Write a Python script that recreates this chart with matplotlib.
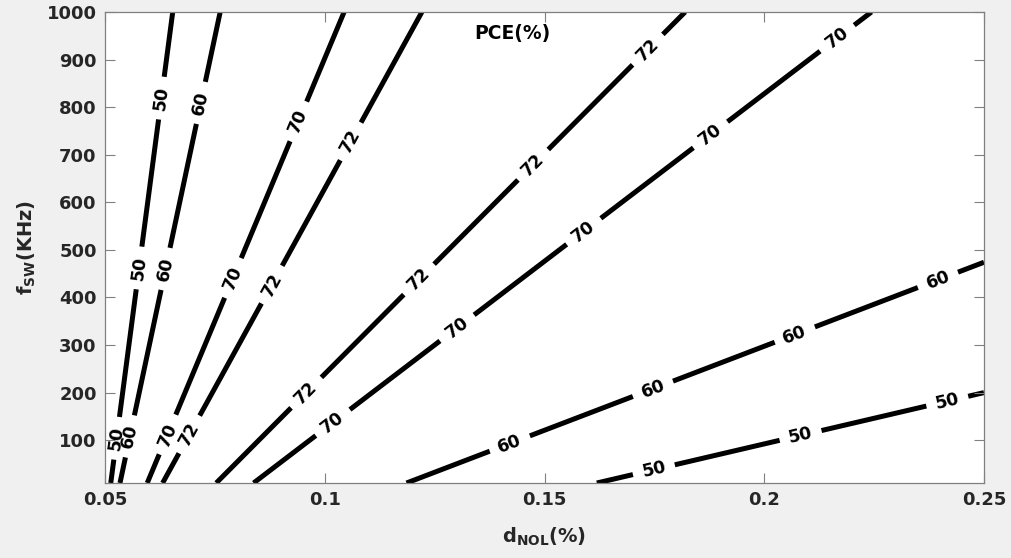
import numpy as np
import matplotlib.pyplot as plt

plt.rcParams['font.family'] = 'DejaVu Sans'
plt.rcParams['font.weight'] = 'bold'
plt.rcParams['axes.labelweight'] = 'bold'
plt.rcParams['mathtext.fontset'] = 'dejavusans'

# PCE(%) contour lines: level, start (d_NOL, f_SW) and end (d_NOL, f_SW)
levels = [50, 60, 70, 72, 72, 70, 60, 50]
d_start = [0.0513, 0.0534, 0.0596, 0.0631, 0.0753, 0.0838, 0.1186, 0.1619]
f_start = [10, 10, 10, 10, 10, 10, 10, 10]
d_end = [0.0654, 0.0762, 0.1044, 0.1221, 0.1820, 0.2244, 0.25, 0.25]
f_end = [1000, 1000, 1000, 1000, 1000, 1000, 474, 200]

# f_SW (KHz) where each line carries its inline label
label_f = [
    [104, 462, 819],
    [108, 460, 809],
    [112, 441, 770],
    [112, 427, 728],
    [200, 438, 679, 921],
    [137, 336, 539, 742, 945],
    [93, 208, 322, 437],
    [38, 110, 182],
]

xticks = [0.05, 0.1, 0.15, 0.2, 0.25]
xticklabels = ['0.05', '0.1', '0.15', '0.2', '0.25']
yticks = [100, 200, 300, 400, 500, 600, 700, 800, 900, 1000]

fig = plt.figure(figsize=(10.12, 5.58), dpi=100, facecolor='#f0f0f0')
ax = fig.add_axes([0.1038, 0.1344, 0.8685, 0.8441])
ax.set_facecolor('white')
ax.set_xlim(0.05, 0.25)
ax.set_ylim(10, 1000)

half_gap = 21.5  # pixels of line left out on each side of a label

for i in range(len(levels)):
    x0, y0, x1, y1 = d_start[i], f_start[i], d_end[i], f_end[i]
    p0 = ax.transData.transform((x0, y0))
    p1 = ax.transData.transform((x1, y1))
    length = np.hypot(p1[0] - p0[0], p1[1] - p0[1])
    ang = np.degrees(np.arctan2(p1[1] - p0[1], p1[0] - p0[0]))
    g = half_gap / length

    ts = [(f - y0) / (y1 - y0) for f in label_f[i]]
    cuts = [0.0]
    for t in ts:
        cuts += [t - g, t + g]
    cuts.append(1.0)
    for a, b in zip(cuts[::2], cuts[1::2]):
        a, b = max(a, 0.0), min(b, 1.0)
        if b <= a:
            continue
        ax.plot([x0 + a * (x1 - x0), x0 + b * (x1 - x0)],
                [y0 + a * (y1 - y0), y0 + b * (y1 - y0)],
                color='black', lw=3.6, solid_capstyle='butt', zorder=1)

    for t, f in zip(ts, label_f[i]):
        x = x0 + t * (x1 - x0)
        ax.text(x, f, str(levels[i]), rotation=ang, rotation_mode='anchor',
                ha='center', va='center', fontsize=12.5, color='black',
                zorder=2, clip_on=True)

ax.text(0.463, 0.955, 'PCE(%)', transform=ax.transAxes, ha='center', va='center',
        fontsize=13.5, color='black')

ax.set_xticks(xticks)
ax.set_xticklabels(xticklabels)
ax.set_yticks(yticks)
ax.tick_params(direction='in', top=True, right=True, length=7, width=0.8,
               color='#808080', labelcolor='#262626', labelsize=13, pad=6)
for s in ax.spines.values():
    s.set_color('#808080')
    s.set_linewidth(0.9)
    s.set_zorder(5)

ax.set_xlabel(r'$\mathbf{d_{NOL}}$(%)', fontsize=14, color='#262626')
ax.set_ylabel(r'$\mathbf{f_{SW}}$(KHz)', fontsize=14, color='#262626')
ax.xaxis.set_label_coords(0.5, -0.09)
ax.yaxis.set_label_coords(-0.076, 0.5)

fig.savefig('out.png', dpi=100, facecolor=fig.get_facecolor())
